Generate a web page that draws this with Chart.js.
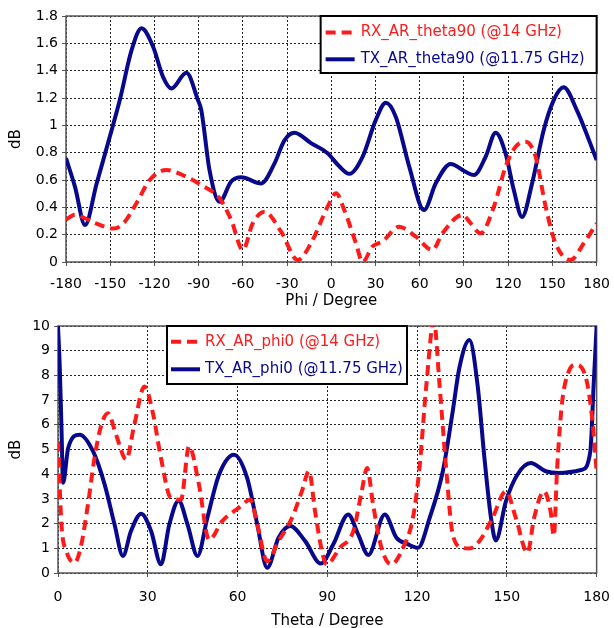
<!DOCTYPE html>
<html><head><meta charset="utf-8">
<script src="https://cdn.jsdelivr.net/npm/chart.js@4.4.1/dist/chart.umd.min.js"></script>
<style>
html,body{margin:0;padding:0;background:#fff;}
#w1{position:absolute;left:0;top:0;width:614px;height:310px;}
#w2{position:absolute;left:0;top:310px;width:614px;height:318px;}
</style></head><body>
<div id="w1"><canvas id="c1" width="614" height="310"></canvas></div>
<div id="w2"><canvas id="c2" width="614" height="318"></canvas></div>
<script>
// ---- Top chart (theta = 90, vs Phi) ----
const rxTheta90Label = 'RX_AR_theta90 (@14 GHz)';
const txTheta90Label = 'TX_AR_theta90 (@11.75 GHz)';
const rxPhi = [-180,-173.9,-167.1,-159.2,-148,-141.2,-132.2,-123.2,-111.9,-98.3,-88.2,-75.8,-67.9,-60,-53.3,-45.3,-34.1,-22.8,-13.8,-2.5,3.2,8.8,16.7,21.2,28,34.7,46,57.4,68.6,75.4,89,94.6,101.2,110.3,118.2,125,131.8,138.6,145.4,152.1,162.3,171.3,180];
const rxTheta90 = [0.31,0.345,0.32,0.28,0.245,0.28,0.43,0.60,0.673,0.624,0.563,0.466,0.307,0.088,0.283,0.368,0.222,0.015,0.137,0.405,0.503,0.38,0.137,0.0,0.114,0.15,0.258,0.185,0.088,0.21,0.344,0.283,0.21,0.405,0.697,0.843,0.88,0.77,0.405,0.137,0.015,0.137,0.283];
const txPhi = [-180,-173.9,-167.1,-159.2,-150.2,-143.5,-135.5,-128.8,-120.9,-114.2,-108.5,-98.3,-90.5,-88.2,-82.6,-75.8,-67.9,-61.1,-47.6,-38.6,-31.8,-25,-13.8,-2.5,5.4,12.2,21.2,30.2,37,43.7,52.8,62.9,70.8,81,91.1,96.8,104.7,111.5,118.2,123.8,129.4,136.2,144.1,150.9,157.6,166.6,180];
const txTheta90 = [0.76,0.55,0.27,0.575,0.92,1.185,1.55,1.71,1.575,1.355,1.27,1.385,1.185,1.11,0.67,0.44,0.59,0.62,0.575,0.72,0.89,0.945,0.87,0.795,0.70,0.645,0.77,1.04,1.165,1.063,0.70,0.38,0.575,0.717,0.66,0.636,0.77,0.946,0.795,0.527,0.33,0.575,0.966,1.185,1.278,1.11,0.746];
const phiTicks = [-180,-150,-120,-90,-60,-30,0,30,60,90,120,150,180];
const dbTicksTop = ['0','0.2','0.4','0.6','0.8','1','1.2','1.4','1.6','1.8'];

// ---- Bottom chart (phi = 0, vs Theta) ----
const rxPhi0Label = 'RX_AR_phi0 (@14 GHz)';
const txPhi0Label = 'TX_AR_phi0 (@11.75 GHz)';
const rxTheta = [0,1.16,2.8,5.6,7.8,10,12.2,14.5,16.7,19.4,22.8,25.5,28.9,31.6,34.4,37.7,41.1,43.8,47.1,50.5,54.9,60.4,64.3,66.6,69.9,73.7,78.2,81.5,83.9,85.9,88.2,89.8,94.2,98.7,101.5,103.3,105.3,108.1,111.4,115.3,118.6,120.8,123.1,125.6,127.5,129.7,131.9,135.2,137.5,140.8,145.2,149.7,153,156.9,159.1,162.4,164.6,165.7,166.8,168.5,170.7,172.9,176.3,178.5,180];
const rxPhi0 = [5.33,1.96,0.89,0.42,1.16,2.77,4.66,6.0,6.47,5.6,4.59,6.0,7.55,6.54,4.66,3.04,2.97,5.13,3.58,1.34,2.1,2.64,2.97,1.96,0.48,1.29,2.23,3.31,4.12,2.5,0.89,0.35,1.02,1.7,3.31,4.25,2.77,1.02,0.35,1.02,2.23,4.25,7.62,10.2,7.62,4.25,1.56,1.02,0.99,1.29,2.23,3.31,2.23,0.82,2.23,3.31,2.5,1.5,4.25,6.95,8.16,8.43,7.96,6.27,4.12];
const txTheta = [0,0.6,1.16,1.7,3.4,7.25,11.7,15.6,18.9,21.7,24.4,27.8,31.1,34.4,37.2,40.3,43.3,46.6,49.9,53.8,58.8,63.2,66.6,69.9,73.7,77.6,82.6,87.8,92,97,100.3,103.7,109.2,113.1,117,120.3,124.2,128.6,131.9,134.1,137.5,140.2,142.5,144.7,146.3,149.7,153.5,158,163,167.4,175.1,177.9,179,180];
const txPhi0 = [10,8.3,5.87,3.65,5.06,5.6,4.93,3.58,1.96,0.69,1.7,2.4,1.7,0.35,1.96,2.93,1.96,0.69,2.23,3.98,4.79,3.85,1.96,0.21,1.43,1.9,1.29,0.38,1.16,2.37,1.56,0.73,2.37,1.43,1.16,1.02,2.23,4.12,6.54,8.29,9.43,7.62,4.66,2.23,1.32,2.91,3.98,4.45,4.12,4.05,4.18,4.93,7.62,10];
const thetaTicks = [0,30,60,90,120,150,180];
const dbTicksBottom = ['0','1','2','3','4','5','6','7','8','9','10'];

const RED = '#ff1a1a';
const BLUE = '#08088c';
const FONT = 'DejaVu Sans';

function pts(xs, ys){ return xs.map((x,i)=>({x:x, y:ys[i]})); }

const framePlugin = {
  id:'frame',
  beforeDatasetsDraw(chart){
    const a = chart.chartArea, ctx = chart.ctx;
    ctx.save();
    ctx.lineWidth = 1.5; ctx.strokeStyle = '#555'; ctx.setLineDash([]);
    ctx.strokeRect(a.left, a.top, a.right - a.left, a.bottom - a.top);
    ctx.restore();
  }
};

const boxLegend = {
  id:'boxLegend',
  afterDatasetsDraw(chart, args, o){
    const ctx = chart.ctx, a = chart.chartArea;
    const x0 = o.alignRight ? a.right - o.width : a.left + o.offsetX;
    const y0 = a.top;
    ctx.save();
    ctx.fillStyle = '#fff'; ctx.fillRect(x0, y0, o.width, o.height);
    ctx.lineWidth = 2; ctx.strokeStyle = '#000'; ctx.setLineDash([]);
    ctx.strokeRect(x0, y0, o.width, o.height);
    chart.data.datasets.forEach((ds,i)=>{
      const cy = y0 + o.rowY[i];
      ctx.beginPath();
      ctx.setLineDash(ds.borderDash || []);
      ctx.lineWidth = ds.borderWidth; ctx.strokeStyle = ds.borderColor;
      ctx.moveTo(x0 + o.lineX0, cy); ctx.lineTo(x0 + o.lineX1, cy); ctx.stroke();
      ctx.setLineDash([]);
      ctx.fillStyle = ds.borderColor; ctx.font = o.font; ctx.textBaseline = 'middle'; ctx.textAlign = 'left';
      ctx.fillText(ds.label, x0 + o.textX, cy);
    });
    ctx.restore();
  }
};

function makeChart(canvas, cfg){
  return new Chart(canvas, {
    type:'line',
    data:{ datasets:[
      { label: cfg.rxLabel, data: pts(cfg.rxX, cfg.rxY), borderColor: RED, borderWidth: 4, borderDash:[10,6], pointRadius:0, cubicInterpolationMode:'monotone', fill:false },
      { label: cfg.txLabel, data: pts(cfg.txX, cfg.txY), borderColor: BLUE, borderWidth: 4, pointRadius:0, cubicInterpolationMode:'monotone', fill:false }
    ]},
    options:{
      responsive:false, animation:false, devicePixelRatio:1,
      layout:{ padding:{ left:0, right:cfg.padRight, top:cfg.padTop, bottom:0 } },
      plugins:{ legend:{display:false}, tooltip:{enabled:false}, boxLegend: cfg.legend },
      scales:{
        x:{ type:'linear', min:cfg.xTicks[0], max:cfg.xTicks[cfg.xTicks.length-1],
            afterBuildTicks(s){ s.ticks = cfg.xTicks.map(v=>({value:v})); },
            afterFit(s){ s.height = cfg.xHeight; },
            ticks:{ color:'#000', font:{family:FONT, size:14, lineHeight:cfg.xTickLH}, padding:4, maxRotation:0, autoSkip:false, callback:(v)=>String(v) },
            grid:{ color:'#222', lineWidth:1, tickLength:4, tickColor:'#555', tickBorderDash:[] },
            border:{ display:false, dash:[2,2] },
            title:{ display:true, text:cfg.xTitle, color:'#000', font:{family:FONT, size:15}, padding:{top:0,bottom:cfg.xTitlePad} } },
        y:{ min:0, max:Number(cfg.yTicks[cfg.yTicks.length-1]),
            afterBuildTicks(s){ s.ticks = cfg.yTicks.map(v=>({value:Number(v)})); },
            afterFit(s){ s.width = cfg.yWidth; },
            ticks:{ color:'#000', font:{family:FONT, size:14}, padding:4, autoSkip:false, callback:(v)=>cfg.yTicks.find(t=>Number(t)===Number(v.toFixed(3))) ?? String(v) },
            grid:{ color:'#222', lineWidth:1, tickLength:4, tickColor:'#555', tickBorderDash:[] },
            border:{ display:false, dash:[2,2] },
            title:{ display:true, text:'dB', color:'#000', font:{family:FONT, size:15}, padding:{top:7,bottom:0} } }
      }
    },
    plugins:[framePlugin, boxLegend]
  });
}

makeChart(document.getElementById('c1'), {
  rxLabel: rxTheta90Label, txLabel: txTheta90Label,
  rxX: rxPhi, rxY: rxTheta90, txX: txPhi, txY: txTheta90,
  xTicks: phiTicks, yTicks: dbTicksTop, xTitle:'Phi / Degree',
  padRight: 15, padTop: 16, xHeight: 48, yWidth: 66, xTitlePad: 0, xTickLH: 2.05,
  legend:{ alignRight:true, width:276, height:57, rowY:[16.6,43.3], lineX0:5, lineX1:34, textX:40, font:'15px "DejaVu Sans"' }
});
makeChart(document.getElementById('c2'), {
  rxLabel: rxPhi0Label, txLabel: txPhi0Label,
  rxX: rxTheta, rxY: rxPhi0, txX: txTheta, txY: txPhi0,
  xTicks: thetaTicks, yTicks: dbTicksBottom, xTitle:'Theta / Degree',
  padRight: 14, padTop: 16, xHeight: 55, yWidth: 58, xTitlePad: -2, xTickLH: 2.35,
  legend:{ alignRight:false, offsetX:109, width:240, height:58, rowY:[15.7,43.3], lineX0:4, lineX1:33, textX:38, font:'15px "DejaVu Sans"' }
});
</script>
</body></html>
